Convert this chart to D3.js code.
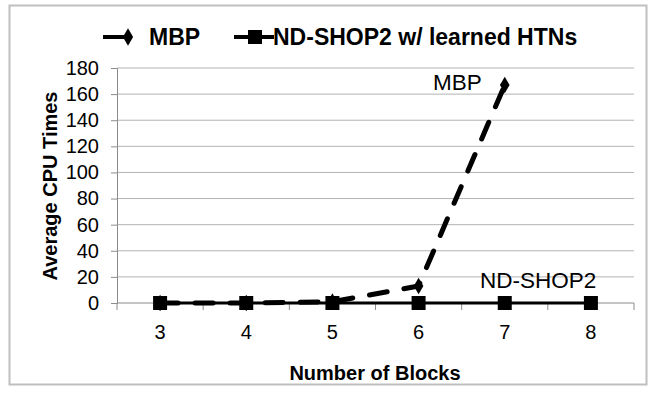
<!DOCTYPE html>
<html>
<head>
<meta charset="utf-8">
<script src="https://cdn.jsdelivr.net/npm/d3@7"></script>
<style>
  body { margin: 0; background: #fff; }
  text { font-family: "Liberation Sans", Arial, sans-serif; }
</style>
</head>
<body>
<div id="chart"></div>
<script>
var width = 654,
  height = 401;

var blocks = ["3", "4", "5", "6", "7", "8"];
var mbp = [0, 0, 1, 13, 167, null];
var ndshop = [0, 0, 0, 0, 0, 0];
var yTicks = [0, 20, 40, 60, 80, 100, 120, 140, 160, 180];

var svg = d3.select("#chart").append("svg")
  .attr("width", width)
  .attr("height", height);

// outer frame
svg.append("rect")
  .attr("x", 9.5).attr("y", 5.5)
  .attr("width", 637).attr("height", 379)
  .attr("fill", "#fff")
  .attr("stroke", "#bfbfbf")
  .attr("stroke-width", 2);

var x = d3.scaleBand().domain(blocks).range([117, 634]);
var y = d3.scaleLinear().domain([0, 180]).range([303, 68]);

// gridlines
svg.append("g")
  .selectAll("line")
  .data(yTicks.slice(1))
  .enter().append("line")
  .attr("x1", 117).attr("x2", 634)
  .attr("y1", d => y(d)).attr("y2", d => y(d))
  .attr("stroke", "#b3b3b3")
  .attr("stroke-width", 1);

// y axis
var yAxis = svg.append("g")
  .attr("transform", "translate(117,0)")
  .call(d3.axisLeft(y).tickValues(yTicks).tickSize(6).tickPadding(12));
yAxis.selectAll("path, line").attr("stroke", "#8c8c8c");
yAxis.selectAll("text")
  .attr("font-size", 20)
  .attr("fill", "#000")
  .style("font-family", "Liberation Sans, Arial, sans-serif");

// x axis: ticks at category boundaries
var xAxis = svg.append("g").attr("transform", "translate(0,303)");
xAxis.append("line")
  .attr("x1", 117).attr("x2", 634)
  .attr("stroke", "#8c8c8c");
xAxis.selectAll(".tk")
  .data(blocks.concat(["end"]))
  .enter().append("line")
  .attr("class", "tk")
  .attr("x1", (d, i) => 117 + i * x.bandwidth())
  .attr("x2", (d, i) => 117 + i * x.bandwidth())
  .attr("y1", 0).attr("y2", 7)
  .attr("stroke", "#8c8c8c");
xAxis.selectAll(".lbl")
  .data(blocks)
  .enter().append("text")
  .attr("class", "lbl")
  .attr("x", d => x(d) + x.bandwidth() / 2)
  .attr("y", 36)
  .attr("text-anchor", "middle")
  .attr("font-size", 20)
  .text(d => d);

// axis titles
svg.append("text")
  .attr("transform", "translate(57,186) rotate(-90)")
  .attr("text-anchor", "middle")
  .attr("font-size", 20)
  .attr("font-weight", "bold")
  .text("Average CPU Times");

svg.append("text")
  .attr("x", 375).attr("y", 380)
  .attr("text-anchor", "middle")
  .attr("font-size", 20)
  .attr("font-weight", "bold")
  .text("Number of Blocks");

var cx = d => x(d) + x.bandwidth() / 2;

// MBP line (dashed), drawn first so ND-SHOP2 sits on top
var mbpData = blocks.map((b, i) => ({ b: b, v: mbp[i] })).filter(d => d.v !== null);
svg.append("path")
  .datum(mbpData)
  .attr("fill", "none")
  .attr("stroke", "#000")
  .attr("stroke-width", 5)
  .attr("stroke-linecap", "round")
  .attr("stroke-dasharray", "18,17")
  .attr("d", d3.line().x(d => cx(d.b)).y(d => y(d.v)));

var diamond = d3.symbol().type(d3.symbolDiamond).size(80);
svg.selectAll(".dm")
  .data(mbpData)
  .enter().append("path")
  .attr("class", "dm")
  .attr("transform", d => "translate(" + cx(d.b) + "," + y(d.v) + ")")
  .attr("d", diamond)
  .attr("fill", "#000");

// ND-SHOP2 line
var ndData = blocks.map((b, i) => ({ b: b, v: ndshop[i] }));
svg.append("path")
  .datum(ndData)
  .attr("fill", "none")
  .attr("stroke", "#000")
  .attr("stroke-width", 3)
  .attr("d", d3.line().x(d => cx(d.b)).y(d => y(d.v)));

svg.selectAll(".sq")
  .data(ndData)
  .enter().append("rect")
  .attr("class", "sq")
  .attr("x", d => cx(d.b) - 7)
  .attr("y", d => y(d.v) - 7)
  .attr("width", 14).attr("height", 14)
  .attr("fill", "#000");

// data labels
svg.append("text")
  .attr("x", 433).attr("y", 90)
  .attr("font-size", 22.5)
  .text("MBP");
svg.append("text")
  .attr("x", 480).attr("y", 288)
  .attr("font-size", 22.5)
  .text("ND-SHOP2");

// legend
var lg = svg.append("g").attr("transform", "translate(0,37)");
lg.append("line")
  .attr("x1", 103).attr("x2", 124)
  .attr("stroke", "#000").attr("stroke-width", 4);
lg.append("path")
  .attr("transform", "translate(128,0)")
  .attr("d", d3.symbol().type(d3.symbolDiamond).size(90))
  .attr("fill", "#000");
lg.append("text")
  .attr("x", 149).attr("y", 8)
  .attr("font-size", 23)
  .attr("font-weight", "bold")
  .text("MBP");
lg.append("line")
  .attr("x1", 234).attr("x2", 274)
  .attr("stroke", "#000").attr("stroke-width", 4);
lg.append("rect")
  .attr("x", 248).attr("y", -7)
  .attr("width", 14).attr("height", 14)
  .attr("fill", "#000");
lg.append("text")
  .attr("x", 273).attr("y", 8)
  .attr("font-size", 23)
  .attr("font-weight", "bold")
  .text("ND-SHOP2 w/ learned HTNs");
</script>
</body>
</html>
